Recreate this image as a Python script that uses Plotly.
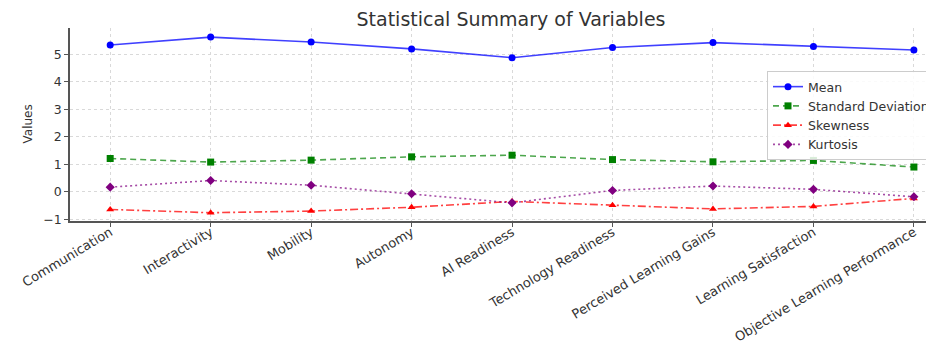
import plotly.graph_objects as go

categories = ["Communication", "Interactivity", "Mobility", "Autonomy", "AI Readiness",
              "Technology Readiness", "Perceived Learning Gains", "Learning Satisfaction",
              "Objective Learning Performance"]
mean_vals = [5.33, 5.62, 5.44, 5.19, 4.87, 5.24, 5.42, 5.28, 5.15]
sd_vals = [1.21, 1.08, 1.15, 1.27, 1.33, 1.17, 1.09, 1.14, 0.90]
skew_vals = [-0.64, -0.76, -0.70, -0.56, -0.35, -0.49, -0.62, -0.53, -0.24]
kurt_vals = [0.17, 0.41, 0.24, -0.07, -0.40, 0.05, 0.21, 0.09, -0.18]
y_ticks = [-1, 0, 1, 2, 3, 4, 5]
y_ticktext = ["\u22121", "0", "1", "2", "3", "4", "5"]

x = list(range(len(categories)))
FONT = "DejaVu Sans"
OFF = 8  # default page body margin

fig = go.Figure()
fig.add_trace(go.Scatter(x=x, y=mean_vals, name="Mean", mode="lines+markers",
                         line=dict(color="rgba(0,0,255,0.75)", width=1.6, dash="solid"),
                         marker=dict(symbol="circle", size=7, color="#0000ff")))
fig.add_trace(go.Scatter(x=x, y=sd_vals, name="Standard Deviation", mode="lines+markers",
                         line=dict(color="rgba(0,128,0,0.7)", width=1.6, dash="6px,4px"),
                         marker=dict(symbol="square", size=7, color="#008000")))
fig.add_trace(go.Scatter(x=x, y=skew_vals, name="Skewness", mode="lines+markers",
                         line=dict(color="rgba(255,0,0,0.75)", width=1.6, dash="8px,3px,2px,3px"),
                         marker=dict(symbol="triangle-up", size=7, color="#ff0000")))
fig.add_trace(go.Scatter(x=x, y=kurt_vals, name="Kurtosis", mode="lines+markers",
                         line=dict(color="rgba(128,0,128,0.7)", width=1.6, dash="2px,3px"),
                         marker=dict(symbol="diamond", size=7, color="#800080")))

fig.update_layout(
    width=934, height=345,
    margin=dict(l=70 - OFF, r=OFF, t=28 - OFF, b=345 - 221 + OFF, autoexpand=False),
    paper_bgcolor="white", plot_bgcolor="white",
    font=dict(family=FONT, color="#333333"),
    title=dict(text="Statistical Summary of Variables", x=(511 - OFF)/934, xref="container",
               xanchor="center", y=1 - (19 - OFF)/345, yref="container", yanchor="middle",
               font=dict(size=19, color="#333333", family=FONT)),
    showlegend=True,
    legend=dict(x=(767-70)/864, y=(221-71)/193, xanchor="left", yanchor="top",
                bgcolor="rgba(255,255,255,0.85)", bordercolor="#cccccc", borderwidth=1,
                font=dict(size=12.5, color="#333333", family=FONT),
                tracegroupgap=0, itemwidth=30),
    xaxis=dict(range=[-0.4, 8.2], tickmode="array", tickvals=x, ticktext=categories,
               tickangle=-31, tickfont=dict(size=13, color="#333333"), automargin=False,
               ticklabelstandoff=-7,
               showgrid=True, gridcolor="#d9d9d9", griddash="dot", gridwidth=1,
               showline=True, linecolor="#555555", linewidth=1.5,
               ticks="outside", ticklen=4, tickcolor="#555555", zeroline=False),
    yaxis=dict(range=[-1.06, 5.95], tickmode="array", tickvals=y_ticks, ticktext=y_ticktext,
               tickfont=dict(size=12.5, color="#333333"), automargin=False,
               showgrid=True, gridcolor="#d9d9d9", griddash="dot", gridwidth=1,
               showline=True, linecolor="#555555", linewidth=1.5,
               ticks="outside", ticklen=4, tickcolor="#555555", zeroline=False),
    annotations=[dict(text="Values", xref="paper", yref="paper", x=(27-70)/864, y=0.5,
                      xanchor="center", yanchor="middle", textangle=-90, showarrow=False,
                      font=dict(size=12, color="#333333", family=FONT))],
)

fig.write_html("out.html")
